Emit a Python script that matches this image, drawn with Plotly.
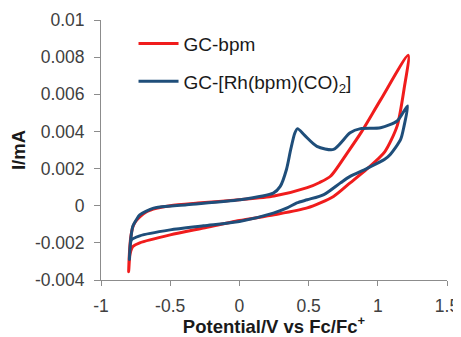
import plotly.graph_objects as go

# ---- data (potential in V, current in mA) ----
red_fwd_v = [-0.800, -0.795, -0.785, -0.770, -0.750, -0.720, -0.670, -0.600, -0.500, -0.300,
             0.000, 0.250, 0.490, 0.580, 0.660, 0.780, 0.880, 1.020, 1.220]
red_fwd_i = [-0.00355, -0.00260, -0.00170, -0.00115, -0.00085, -0.00060, -0.00032, -0.00014, 0.0, 0.00014,
             0.00032, 0.00052, 0.00097, 0.00125, 0.00160, 0.00285, 0.00395, 0.00570, 0.00810]
red_rev_v = [1.190, 1.140, 1.050, 0.920, 0.800, 0.680, 0.490, 0.250, 0.000, -0.260,
             -0.500, -0.720, -0.770, -0.790, -0.800]
red_rev_i = [0.00630, 0.00430, 0.00290, 0.00197, 0.00123, 0.00050, -0.00012, -0.00049, -0.00080, -0.00120,
             -0.00157, -0.00200, -0.00220, -0.00260, -0.00355]

blue_fwd_v = [-0.795, -0.790, -0.780, -0.770, -0.740, -0.720, -0.620, -0.380, 0.000, 0.245,
              0.295, 0.340, 0.370, 0.400, 0.420, 0.470, 0.560, 0.680, 0.800, 0.875,
              1.020, 1.140, 1.215]
blue_fwd_i = [-0.00290, -0.00220, -0.00150, -0.00110, -0.00070, -0.00049, -0.00013, 0.00005, 0.00032, 0.00068,
              0.00104, 0.00195, 0.00300, 0.00390, 0.00415, 0.00380, 0.00320, 0.00303, 0.00393, 0.00415,
              0.00420, 0.00456, 0.00537]
blue_rev_v = [1.190, 1.165, 1.090, 1.050, 0.920, 0.800, 0.730, 0.610, 0.490, 0.415,
              0.345, 0.245, 0.000, -0.260, -0.500, -0.720, -0.780, -0.790, -0.795]
blue_rev_i = [0.00430, 0.00357, 0.00276, 0.00250, 0.00200, 0.00158, 0.00123, 0.00060, 0.00032, 0.00015,
              -0.00012, -0.00040, -0.00085, -0.00108, -0.00130, -0.00162, -0.00184, -0.00230, -0.00290]

x_ticks = [-1, -0.5, 0, 0.5, 1, 1.5]
x_tick_text = ["-1", "-0.5", "0", "0.5", "1", "1.5"]
y_ticks = [-0.004, -0.002, 0, 0.002, 0.004, 0.006, 0.008, 0.01]
y_tick_text = ["-0.004", "-0.002", "0", "0.002", "0.004", "0.006", "0.008", "0.01"]

series_names = ["GC-bpm", "GC-[Rh(bpm)(CO)<sub>2</sub>]"]
series_colors = ["#f01c1c", "#1f4e7a"]

FONT = "Arial, 'Liberation Sans', sans-serif"

fig = go.Figure()
fig.add_trace(go.Scatter(x=red_fwd_v + red_rev_v, y=red_fwd_i + red_rev_i, mode="lines",
                         name=series_names[0], legendgroup="a",
                         line=dict(color=series_colors[0], width=3, shape="spline", smoothing=0.7)))
fig.add_trace(go.Scatter(x=blue_fwd_v + blue_rev_v, y=blue_fwd_i + blue_rev_i, mode="lines",
                         name=series_names[1], legendgroup="b",
                         line=dict(color=series_colors[1], width=3, shape="spline", smoothing=0.7)))

# page body has an 8px margin, so the figure is 8px smaller than the window
fig.update_layout(
    width=453, height=329,
    margin=dict(l=93, r=14, t=12, b=57, autoexpand=False),
    paper_bgcolor="white", plot_bgcolor="white",
    font=dict(family=FONT, size=17.5, color="#404040"),
    showlegend=True,
    legend=dict(x=0.094, y=0.982, xanchor="left", yanchor="top",
                bgcolor="rgba(0,0,0,0)", font=dict(size=19, color="#1a1a1a"),
                itemwidth=40, tracegroupgap=10),
    xaxis=dict(range=[-1, 1.5], tickvals=x_ticks, ticktext=x_tick_text, automargin=False,
               showline=True, linecolor="#8c8c8c", linewidth=1,
               ticks="outside", ticklen=5, tickcolor="#8c8c8c", ticklabelstandoff=5,
               showgrid=False, zeroline=False,
               title=dict(text="Potential/V vs Fc/Fc<sup>+</sup>",
                          font=dict(size=18.5, color="#1a1a1a", family=FONT, weight="bold"),
                          standoff=5)),
    yaxis=dict(range=[-0.004, 0.01], tickvals=y_ticks, ticktext=y_tick_text, automargin=False,
               showline=True, linecolor="#8c8c8c", linewidth=1,
               ticks="outside", ticklen=6, tickcolor="#8c8c8c", ticklabelstandoff=6,
               showgrid=False, zeroline=False,
               title=dict(text="I/mA",
                          font=dict(size=18.5, color="#1a1a1a", family=FONT, weight="bold"),
                          standoff=10)),
)

fig.write_html("out.html")
